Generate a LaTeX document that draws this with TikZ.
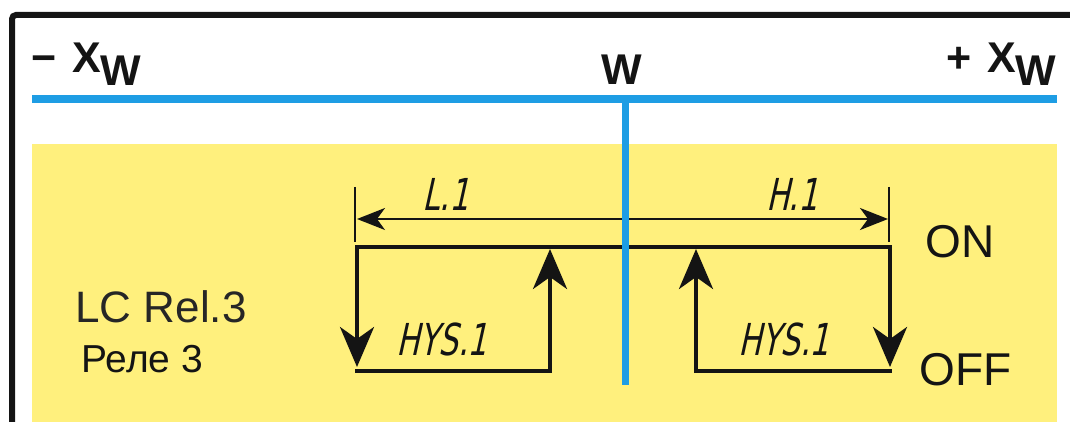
\documentclass[tikz,border=0pt]{standalone}
\usepackage{fontspec}
\setmainfont{Liberation Sans}
\newfontfamily\segfont[FakeSlant=0.22,FakeStretch=0.7]{DejaVu Sans}
\usepackage{tikz}
\usetikzlibrary{positioning}
\usetikzlibrary{arrows.meta}
\definecolor{relayellow}{RGB}{255,240,125}
\definecolor{axisblue}{RGB}{30,157,228}
\definecolor{inkblack}{RGB}{20,20,20}
\definecolor{inkgray}{RGB}{38,38,38}
\tikzstyle{frameline} = [line width=3pt,inkblack,rounded corners=2pt]
\tikzstyle{axisline} = [line width=4pt,axisblue]
\tikzstyle{stepline} = [line width=2pt,inkblack,line cap=rect]
\tikzstyle{steparrow} = [stepline,-{Stealth[length=20pt,width=17pt,inset=6pt]}]
\tikzstyle{dimline} = [line width=1pt,inkblack,{Stealth[length=14pt,width=11pt,inset=4pt]}-{Stealth[length=14pt,width=11pt,inset=4pt]}]
\tikzstyle{tickline} = [line width=0.7pt,inkblack]
\tikzstyle{axislabel} = [inner sep=0pt,font=\fontsize{21.5}{21.5}\selectfont\bfseries,text=inkblack]
\tikzstyle{statelabel} = [inner sep=0pt,font=\fontsize{23}{23}\selectfont,text=inkblack]
\tikzstyle{seglabel} = [inner sep=0pt,font=\segfont\fontsize{22}{22}\selectfont,text=inkblack]

\begin{document}
\begin{tikzpicture}[x=0.5pt,y=-0.5pt]
	\useasboundingbox (0,0) rectangle (1070,422);

	% yellow field
	\fill[relayellow] (32,144) rectangle (1057,422);

	% frame
	\coordinate (frameB) at (12,422);
	\coordinate (frameC) at (12,15);
	\coordinate (frameR) at (1070,15);
	\draw[frameline] (frameB) -- (frameC) -- (frameR);

	% axis labels
	\node[axislabel, anchor=base west] (minusX) at (31,73) {−\kern2pt\ X\kern-0.5pt\raisebox{-6.5pt}{W}};
	\node[axislabel, anchor=base] (setW) at (621.5,85) {W};
	\node[axislabel, anchor=base east] (plusX) at (1056,73) {+\kern2pt\ X\kern-0.5pt\raisebox{-6.5pt}{W}};

	% switching points
	\coordinate (onL) at (357,247);
	\coordinate (offL) at (357,371);
	\coordinate (offLi) at (550,371);
	\coordinate (onLi) at (550,249);
	\coordinate (onR) at (890,247);
	\coordinate (offR) at (890,371);
	\coordinate (offRi) at (696,371);
	\coordinate (onRi) at (696,249);

	% limits
	\coordinate (tickLt) at (355,187);
	\coordinate (tickLb) at (355,242);
	\coordinate (tickRt) at (889,187);
	\coordinate (tickRb) at (889,242);
	\coordinate (dimL) at (357,219);
	\coordinate (dimR) at (888,219);
	\draw[tickline] (tickLt) -- (tickLb);
	\draw[tickline] (tickRt) -- (tickRb);
	\draw[dimline] (dimL) -- (dimR);
	\node[seglabel] (lowLim) at (446,194) {L.1};
	\node[seglabel] (highLim) at (792,194) {H.1};

	% relay steps
	\draw[stepline] (onL) -- (onR);
	\draw[steparrow, shorten >=2pt] (onL) -- (offL);
	\draw[steparrow] (offL) -- (offLi) -- (onLi);
	\draw[steparrow, shorten >=2pt] (onR) -- (offR);
	\draw[steparrow] (offR) -- (offRi) -- (onRi);
	\node[seglabel] (hysL) at (442,339) {HYS.1};
	\node[seglabel] (hysR) at (784,339) {HYS.1};

	% setpoint axis
	\coordinate (axisL) at (32,99);
	\coordinate (axisR) at (1057,99);
	\coordinate (axisW) at (625.5,99);
	\coordinate (axisEnd) at (625.5,385);
	\draw[axisline] (axisL) -- (axisR);
	\draw[axisline, line width=3.5pt] (axisW) -- (axisEnd);

	% texts
	\node[statelabel, anchor=base west] (onText) at (925,257) {ON};
	\node[statelabel, anchor=base west] (offText) at (919,385) {OFF};
	\node[statelabel, anchor=base west, text=inkgray, font=\fontsize{22}{22}\selectfont] (relName) at (75,322) {LC Rel.3};
	\node[statelabel, anchor=base west, font=\fontsize{19.5}{19.5}\selectfont] (relRu) at (81,372) {Реле 3};
\end{tikzpicture}
\end{document}
